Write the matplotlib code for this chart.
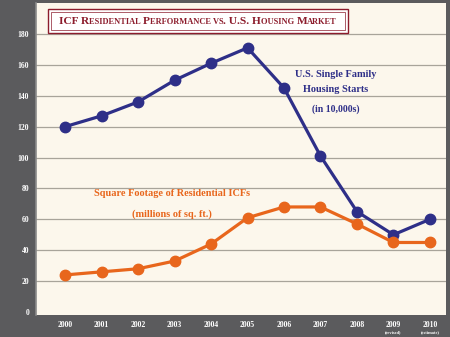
import matplotlib
matplotlib.use('Agg')
import matplotlib.pyplot as plt
from matplotlib.patches import Rectangle
from matplotlib.offsetbox import TextArea, HPacker, AnchoredOffsetbox

years = [2000, 2001, 2002, 2003, 2004, 2005, 2006, 2007, 2008, 2009, 2010]
year_labels = ['2000', '2001', '2002', '2003', '2004', '2005', '2006', '2007', '2008', '2009', '2010']
year_notes = ['', '', '', '', '', '', '', '', '', '(revised)', '(estimate)']
housing_starts = [120, 127, 136, 150, 161, 171, 145, 101, 65, 50, 60]
icf_sqft = [24, 26, 28, 33, 44, 61, 68, 68, 57, 45, 45]
yticks = [0, 20, 40, 60, 80, 100, 120, 140, 160, 180]

BG = '#5b5b5d'
PANEL = '#fcf7ec'
BLUE = '#2e2f88'
ORANGE = '#e8661c'
RED = '#8c1c2c'
SERIF = 'Liberation Serif'

fig = plt.figure(figsize=(4.5, 3.37), dpi=100, facecolor=BG)
ax = fig.add_axes([0.08, 0.065, 0.911, 0.926])
ax.set_facecolor(PANEL)

ax.set_ylim(-2, 200)
ax.set_xlim(1999.2, 2010.44)
for v in yticks[1:]:
    ax.axhline(v, color='#a8a49a', lw=0.9, zorder=1)

ax.plot(years, housing_starts, color=BLUE, lw=2.3, marker='o', ms=7.5, zorder=3)
ax.plot(years, icf_sqft, color=ORANGE, lw=2.3, marker='o', ms=7.5, zorder=3)

for s in ['top', 'right', 'bottom']:
    ax.spines[s].set_visible(False)
ax.spines['left'].set_color('#8a8a8a')
ax.spines['left'].set_linewidth(1.2)

ax.set_yticks(yticks)
ax.set_yticklabels([str(v) for v in yticks], color='white', fontsize=5.5,
                   fontweight='bold', family=SERIF)
ax.tick_params(axis='y', length=0, pad=5)
ax.set_xticks(years)
ax.set_xticklabels([])
ax.tick_params(axis='x', length=0)
for x, lab, note in zip(years, year_labels, year_notes):
    ax.text(x, -5.5, lab, ha='center', va='top', color='white', fontsize=5.5,
            fontweight='bold', family=SERIF, clip_on=False)
    if note:
        ax.text(x, -11.5, note, ha='center', va='top', color='white', fontsize=3.2,
                fontweight='bold', family=SERIF, clip_on=False)

# series labels
ax.text(2007.42, 153.7, 'U.S. Single Family', ha='center', va='center', color=BLUE,
        fontsize=7.4, fontweight='bold', family=SERIF)
ax.text(2007.42, 144, 'Housing Starts', ha='center', va='center', color=BLUE,
        fontsize=7.4, fontweight='bold', family=SERIF)
ax.text(2007.42, 131, '(in 10,000s)', ha='center', va='center', color=BLUE,
        fontsize=7.0, fontweight='bold', family=SERIF)
ax.text(2002.93, 76.5, 'Square Footage of Residential ICFs', ha='center', va='center',
        color=ORANGE, fontsize=7.4, fontweight='bold', family=SERIF)
ax.text(2002.93, 63.5, '(millions of sq. ft.)', ha='center', va='center',
        color=ORANGE, fontsize=7.4, fontweight='bold', family=SERIF)

# title box (pixel coords of the figure)
def px(x0, y0, w, h):
    return (x0 / 450, 1 - (y0 + h) / 337, w / 450, h / 337)

x0, y0, w, h = px(48, 9, 300, 24)
fig.patches.append(Rectangle((x0, y0), w, h, transform=fig.transFigure,
                             facecolor='white', edgecolor=RED, lw=1.0, zorder=5))
x0, y0, w, h = px(51, 12, 294, 18)
fig.patches.append(Rectangle((x0, y0), w, h, transform=fig.transFigure,
                             facecolor='none', edgecolor=RED, lw=0.5, zorder=5))

# small caps title
title_parts = [('ICF R', 8.2), ('ESIDENTIAL ', 6.0), ('P', 8.2), ('ERFORMANCE VS', 6.0),
               ('. U.S. H', 8.2), ('OUSING ', 6.0), ('M', 8.2), ('ARKET', 6.0)]
boxes = [TextArea(t, textprops=dict(color=RED, fontsize=s, fontweight='bold', family=SERIF))
         for t, s in title_parts]
pack = HPacker(children=boxes, align='baseline', pad=0, sep=0)
anch = AnchoredOffsetbox(loc='center', child=pack, frameon=False,
                         bbox_to_anchor=(198 / 450, 1 - 21 / 337),
                         bbox_transform=fig.transFigure, pad=0, borderpad=0)
anch.set_zorder(6)
fig.add_artist(anch)

fig.savefig('out.png', dpi=100, facecolor=BG)
